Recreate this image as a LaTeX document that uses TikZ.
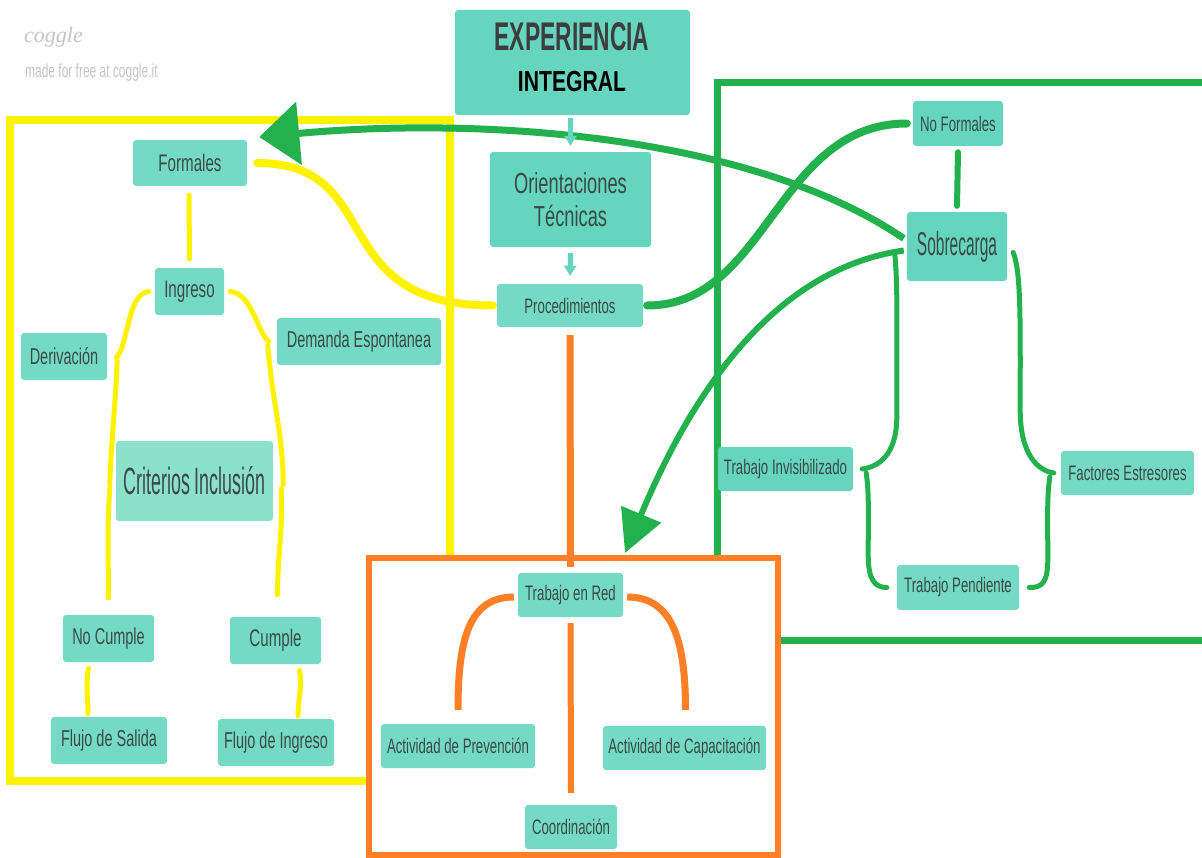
\documentclass[tikz,border=0pt]{standalone}
\usepackage{fontspec}
\setmainfont{Liberation Sans}
\newfontfamily\cond[FakeStretch=0.63]{Liberation Sans}
\newfontfamily\vcond[FakeStretch=0.47]{Liberation Sans}
\newfontfamily\expf[FakeStretch=0.57]{Liberation Sans}
\newfontfamily\intf[FakeStretch=0.73]{Liberation Sans}
\newfontfamily\logof{Liberation Serif}
\usetikzlibrary{arrows.meta,calc}
\newcommand\fsz[1]{\fontsize{#1}{#1}\selectfont}
\definecolor{yel}{HTML}{FFF200}
\definecolor{grn}{HTML}{22B14C}
\definecolor{org}{HTML}{FF7F27}
\definecolor{tealA}{HTML}{74DAC5}
\definecolor{tealB}{HTML}{66D5C0}
\definecolor{tealC}{HTML}{8CE1CC}
\definecolor{txt}{HTML}{3B4A47}
\definecolor{logo}{HTML}{C4C4C4}
\tikzset{
  box/.style={draw=none, fill=tealA, rounded corners=3pt, inner sep=0pt, text=txt, align=center},
  ycon/.style={draw=yel, line width=5pt, line cap=round},
  gcon/.style={draw=grn, line width=5pt, line cap=round},
  ocon/.style={draw=org, line width=7pt},
  tcon/.style={draw=tealB, line width=5pt, -{Triangle[length=10pt,width=12pt]}}
}
\begin{document}
\begin{tikzpicture}[x=1pt,y=-1pt]
\useasboundingbox (0,0) rectangle (1202,857);
% logo
\node[font=\logof\itshape\fsz{22}, text=logo, anchor=west, inner sep=0pt] (logo) at (24,37) {coggle};
\node[font=\cond\fsz{19}, text=logo, anchor=west, inner sep=0pt] (made) at (25,73) {made for free at coggle.it};
% frames
\draw[yel, line width=8pt] (10,120) rectangle (450,781);
\draw[grn, line width=7pt] (1212,82) -- (717,82) -- (717,640) -- (1212,640);
\draw[org, line width=6pt, fill=white] (369,558) rectangle (778,855);
% nodes
\node[box, fill=tealB, minimum width=235pt, minimum height=105pt] (exp) at (572.5,62.5) {};
\node[font=\expf\bfseries\fsz{40}, text=black!76, inner sep=0pt] (expt) at (572,37) {EXPERIENCIA};
\node[font=\intf\bfseries\fsz{29}, text=black, inner sep=0pt] (intt) at (572,82) {INTEGRAL};
\node[box, fill=tealB, minimum width=161pt, minimum height=95pt, font=\cond\fsz{29}] (ori) at (570.5,199.5) {Orientaciones\\[4pt]Técnicas};
\node[box, minimum width=146pt, minimum height=43pt, font=\cond\fsz{21}] (proc) at (570,305.5) {Procedimientos};
\node[box, minimum width=114pt, minimum height=46pt, font=\cond\fsz{24}] (form) at (190,163) {Formales};
\node[box, minimum width=69pt, minimum height=47pt, font=\cond\fsz{24}] (ing) at (189.5,291.5) {Ingreso};
\node[box, minimum width=86pt, minimum height=47pt, font=\cond\fsz{23}] (der) at (64,356.5) {Derivación};
\node[box, minimum width=164pt, minimum height=47pt, font=\cond\fsz{23}] (dem) at (359,341.5) {Demanda Espontanea};
\node[box, fill=tealC, minimum width=157pt, minimum height=80pt, font=\vcond\fsz{38}] (crit) at (194.5,481) {Criterios Inclusión};
\node[box, minimum width=91pt, minimum height=47pt, font=\cond\fsz{23}] (nocum) at (108.5,638.5) {No Cumple};
\node[box, minimum width=91pt, minimum height=47pt, font=\cond\fsz{24}] (cum) at (275.5,640.5) {Cumple};
\node[box, minimum width=116pt, minimum height=47pt, font=\cond\fsz{23}] (fsal) at (109,740.5) {Flujo de Salida};
\node[box, minimum width=116pt, minimum height=47pt, font=\cond\fsz{23}] (fing) at (276,742.5) {Flujo de Ingreso};
\node[box, minimum width=105pt, minimum height=44pt, font=\cond\fsz{21}] (red) at (570.5,595) {Trabajo en Red};
\node[box, minimum width=154pt, minimum height=44pt, font=\cond\fsz{21}] (prev) at (458,746) {Actividad de Prevención};
\node[box, minimum width=163pt, minimum height=44pt, font=\cond\fsz{21}] (cap) at (684.5,748) {Actividad de Capacitación};
\node[box, minimum width=92pt, minimum height=44pt, font=\cond\fsz{21}] (coord) at (571,827) {Coordinación};
\node[box, fill=tealB, minimum width=90pt, minimum height=45pt, font=\cond\fsz{21}] (nof) at (958,123.5) {No Formales};
\node[box, fill=tealB, minimum width=100pt, minimum height=69pt, font=\vcond\fsz{33}] (sob) at (957,246.5) {Sobrecarga};
\node[box, fill=tealB, minimum width=135pt, minimum height=44pt, font=\cond\fsz{21}] (tinv) at (785.5,469) {Trabajo Invisibilizado};
\node[box, minimum width=133pt, minimum height=44pt, font=\cond\fsz{21}] (fest) at (1127.5,473) {Factores Estresores};
\node[box, minimum width=122pt, minimum height=45pt, font=\cond\fsz{21}] (tpen) at (958,587.5) {Trabajo Pendiente};
\coordinate (gtip) at (625,553);
% yellow connectors
\draw[ycon] ($(form.south)+(-1,9)$) -- ($(ing.north)+(0,-9)$);
\draw[ycon, line width=8pt] ($(proc.west)+(-4,0)$) .. controls +(-170,0) and +(130,0) .. ($(form.east)+(10,0)$);
\draw[ycon] ($(ing.west)+(-6,0)$) .. controls +(-22,2) and +(12,-10) .. ($(der.east)+(9,1)$);
\draw[ycon] ($(ing.east)+(6,0)$) .. controls +(22,2) and +(-12,-10) .. ($(dem.west)+(-8,0)$);
\draw[ycon] ($(der.east)+(10,4)$) .. controls +(-2,50) and +(1,-40) .. ($(crit.west)+(-6,4)$);
\draw[ycon] ($(crit.west)+(-6,8)$) .. controls +(-3,40) and +(0,-40) .. ($(nocum.north)+(0,-17)$);
\draw[ycon] ($(dem.west)+(-9,4)$) .. controls +(5,60) and +(0,-50) .. ($(crit.east)+(10,4)$);
\draw[ycon] ($(crit.east)+(8,8)$) .. controls +(2,40) and +(0,-40) .. ($(cum.north)+(2,-22)$);
\draw[ycon] ($(nocum.south)+(-20,6)$) .. controls +(-3,15) and +(0,-15) .. ($(fsal.north)+(-21,-3)$);
\draw[ycon] ($(cum.south)+(24,6)$) .. controls +(3,15) and +(0,-15) .. ($(fing.north)+(22,-3)$);
% orange connectors
\draw[ocon] ($(proc.south)+(0,8)$) -- ($(red.north)+(0,-6)$);
\draw[ocon] ($(red.west)+(-4,2)$) .. controls +(-45,0) and +(0,-70) .. ($(prev.north)+(0,-14)$);
\draw[ocon] ($(red.east)+(4,2)$) .. controls +(45,0) and +(0,-70) .. ($(cap.north)+(1,-16)$);
\draw[ocon, line width=6pt] ($(red.south)+(0,6)$) -- ($(coord.north)+(0,-12)$);
% green connectors
\draw[gcon, line width=8pt] ($(proc.east)+(4,0)$) .. controls +(120,0) and +(-130,0) .. ($(nof.west)+(-6,0)$);
\draw[gcon, line width=7pt, line cap=butt, -{Triangle[length=40pt,width=62pt]}] ($(sob.west)+(-3,-8)$) .. controls (760,140) and (500,115) .. ($(form.east)+(12,-26)$);
\draw[gcon, line width=6pt, line cap=butt, -{Triangle[length=42pt,width=42pt]}] ($(sob.west)+(-3,4)$) .. controls (800,265) and (710,350) .. (gtip);
\draw[gcon, line width=6pt] ($(nof.south)+(0,6)$) -- ($(sob.north)+(0,-6)$);
\draw[gcon] ($(sob.west)+(-12,8)$) .. controls +(3,30) and +(0,-90) .. ($(sob.west)+(-10,170)$) .. controls +(0,40) and +(15,-2) .. ($(tinv.east)+(9,0)$);
\draw[gcon] ($(sob.east)+(6,6)$) .. controls +(8,20) and +(0,-90) .. ($(sob.east)+(13,164)$) .. controls +(0,45) and +(-15,-2) .. ($(fest.west)+(-7,0)$);
\draw[gcon] ($(tinv.east)+(13,4)$) .. controls +(3,20) and +(0,-40) .. ($(tinv.east)+(15,86)$) .. controls +(0,25) and +(-12,0) .. ($(tpen.west)+(-10,0)$);
\draw[gcon] ($(fest.west)+(-11,4)$) .. controls +(-3,20) and +(0,-40) .. ($(fest.west)+(-13,86)$) .. controls +(0,25) and +(12,0) .. ($(tpen.east)+(10,0)$);
% teal connectors
\draw[tcon] ($(exp.south)+(-2,3)$) -- ($(ori.north)+(0,-6)$);
\draw[tcon] ($(ori.south)+(0,6)$) -- ($(proc.north)+(0,-8)$);
\end{tikzpicture}
\end{document}
